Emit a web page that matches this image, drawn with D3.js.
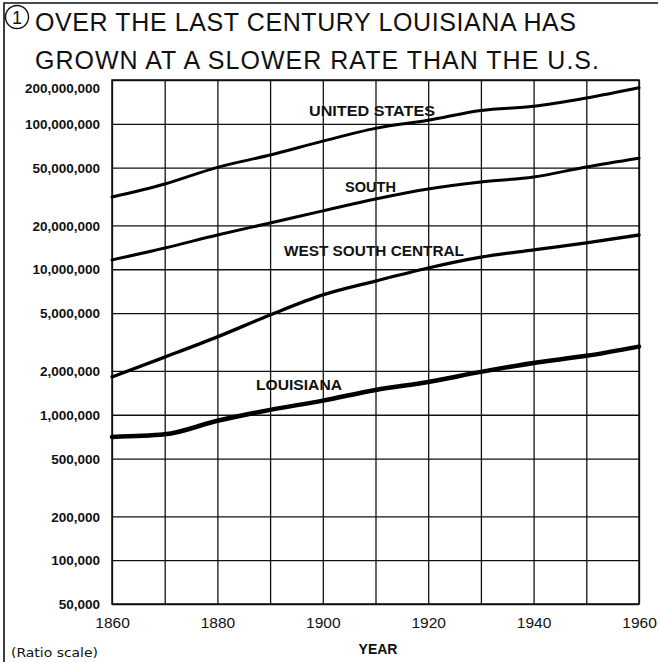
<!DOCTYPE html>
<html>
<head>
<meta charset="utf-8">
<script src="https://cdn.jsdelivr.net/npm/d3@7"></script>
<style>
  html, body { margin: 0; padding: 0; background: #fff; }
  svg { display: block; }
</style>
</head>
<body>
<script>
// ---- data ----
const years = [1860, 1870, 1880, 1890, 1900, 1910, 1920, 1930, 1940, 1950, 1960];
const unitedStates = [31400000, 38600000, 50200000, 61000000, 76000000, 93000000, 105700000, 123500000, 132000000, 150500000, 177000000];
const south = [11600000, 14000000, 17200000, 20800000, 25200000, 30400000, 35600000, 39800000, 43100000, 50500000, 58000000];
const westSouthCentral = [1820000, 2490000, 3430000, 4850000, 6660000, 8300000, 10200000, 12100000, 13600000, 15200000, 17200000];
const louisiana = [704000, 733000, 909000, 1080000, 1250000, 1480000, 1680000, 1970000, 2270000, 2540000, 2940000];
const seriesNames = ["UNITED STATES", "SOUTH", "WEST SOUTH CENTRAL", "LOUISIANA"];
const yTickValues = [50000, 100000, 200000, 500000, 1000000, 2000000, 5000000, 10000000, 20000000, 50000000, 100000000, 200000000];
const xTickLabels = [1860, 1880, 1900, 1920, 1940, 1960];
const titleNumber = "1";
const titleLines = ["OVER THE LAST CENTURY LOUISIANA HAS", "GROWN AT A SLOWER RATE THAN THE U.S."];

// ---- layout ----
const W = 660, H = 662;
const L = 112, R = 639, T = 80, B = 604;

const svg = d3.select("body").append("svg").attr("width", W).attr("height", H);

const x = d3.scaleLinear().domain([1860, 1960]).range([L, R]);
const y = d3.scaleLog().domain([50000, 200000000]).range([B, T]);

// outer frame (top and left edge)
svg.append("path")
  .attr("d", "M4," + H + " V3 H658")
  .attr("fill", "none").attr("stroke", "#111").attr("stroke-width", 1.6);

// title with circled number
svg.append("circle").attr("cx", 17).attr("cy", 17).attr("r", 11.5)
  .attr("fill", "none").attr("stroke", "#111").attr("stroke-width", 1.4);
svg.append("text").text(titleNumber)
  .attr("x", 17).attr("y", 23.5).attr("text-anchor", "middle")
  .attr("font-family", "Liberation Sans, Arial, sans-serif")
  .attr("font-size", 18).attr("fill", "#111");
const titleY = [31, 69];
const titleLen = [541, 564];
titleLines.forEach((t, i) => {
  svg.append("text").text(t)
    .attr("x", 35).attr("y", titleY[i])
    .attr("font-family", "Liberation Sans, Arial, sans-serif")
    .attr("font-size", 25)
    .attr("textLength", titleLen[i]).attr("lengthAdjust", "spacing")
    .attr("fill", "#111");
});

// grid
const gridY = svg.append("g").attr("transform", `translate(${L},0)`)
  .call(d3.axisLeft(y).tickValues(yTickValues).tickSize(-(R - L)).tickFormat(""));
gridY.select(".domain").remove();
gridY.selectAll("line").attr("stroke", "#111").attr("stroke-width", 1.3);

const gridX = svg.append("g").attr("transform", `translate(0,${B})`)
  .call(d3.axisBottom(x).tickValues(years).tickSize(-(B - T)).tickFormat(""));
gridX.select(".domain").remove();
gridX.selectAll("line").attr("stroke", "#111").attr("stroke-width", 1.3);

// plot border
svg.append("rect").attr("x", L).attr("y", T).attr("width", R - L).attr("height", B - T)
  .attr("fill", "none").attr("stroke", "#111").attr("stroke-width", 1.5);

// y axis labels
const yAxis = svg.append("g").attr("transform", `translate(${L},0)`)
  .call(d3.axisLeft(y).tickValues(yTickValues).tickSize(0).tickPadding(12).tickFormat(d3.format(",")));
yAxis.select(".domain").remove();
yAxis.selectAll("text")
  .attr("font-family", "Liberation Sans, Arial, sans-serif")
  .attr("font-weight", "bold").attr("font-size", 13.5).attr("fill", "#111")
  .attr("dy", d => d === 200000000 ? "0.95em" : "0.34em");

// x axis labels
const xAxis = svg.append("g").attr("transform", `translate(0,${B})`)
  .call(d3.axisBottom(x).tickValues(xTickLabels).tickSize(0).tickPadding(13).tickFormat(d3.format("d")));
xAxis.select(".domain").remove();
xAxis.selectAll("text")
  .attr("font-family", "Liberation Sans, Arial, sans-serif")
  .attr("font-size", 15.5).attr("fill", "#111");

svg.append("text").text("YEAR")
  .attr("x", 378).attr("y", 654).attr("text-anchor", "middle")
  .attr("font-family", "Liberation Sans, Arial, sans-serif")
  .attr("font-weight", "bold").attr("font-size", 14).attr("fill", "#111");

svg.append("text").text("(Ratio scale)")
  .attr("x", 11).attr("y", 657)
  .attr("font-family", "DejaVu Sans, sans-serif")
  .attr("font-size", 12).attr("textLength", 87).attr("lengthAdjust", "spacingAndGlyphs")
  .attr("fill", "#111");

// series lines
const allSeries = [unitedStates, south, westSouthCentral, louisiana];
const widths = [3, 3, 3.3, 4.5];
const line = d3.line().x((d, i) => x(years[i])).y(d => y(d)).curve(d3.curveMonotoneX);
allSeries.forEach((s, k) => {
  svg.append("path").datum(s)
    .attr("d", line)
    .attr("fill", "none").attr("stroke", "#000")
    .attr("stroke-width", widths[k]).attr("stroke-linejoin", "round").attr("stroke-linecap", "round");
});

// series labels
const labelPos = [
  { x: 309, y: 116, len: 126 },
  { x: 345, y: 192, len: 51 },
  { x: 284, y: 256, len: 180 },
  { x: 256, y: 390, len: 86 }
];
seriesNames.forEach((n, k) => {
  svg.append("text").text(n)
    .attr("x", labelPos[k].x).attr("y", labelPos[k].y)
    .attr("font-family", "Liberation Sans, Arial, sans-serif")
    .attr("font-weight", "bold").attr("font-size", 14.5)
    .attr("textLength", labelPos[k].len).attr("lengthAdjust", "spacingAndGlyphs")
    .attr("fill", "#111");
});
</script>
</body>
</html>
